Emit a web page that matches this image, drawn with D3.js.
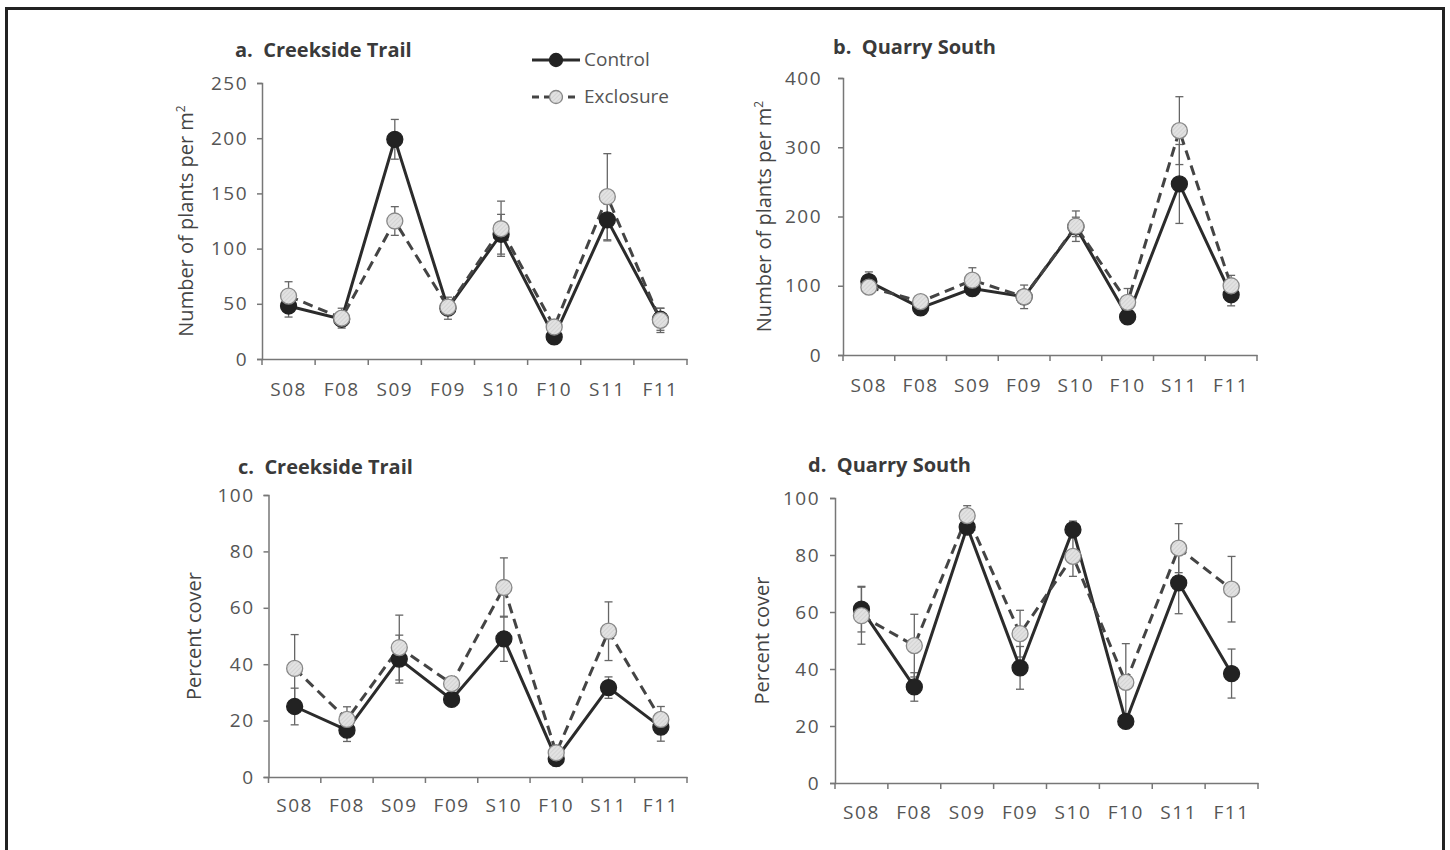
<!DOCTYPE html>
<html>
<head>
<meta charset="utf-8">
<script src="https://cdn.jsdelivr.net/npm/d3@7"></script>
<style>
  body { margin: 0; background: #fff; }
  svg { display: block; }
</style>
</head>
<body>
<div id="chart"></div>
<script>
const seasons = ['S08', 'F08', 'S09', 'F09', 'S10', 'F10', 'S11', 'F11'];
const seriesNames = ['Control', 'Exclosure'];

// a. Creekside Trail, plants per m2
const aControl = [48, 36, 199, 46, 113, 20, 126, 36];
const aControlErr = [10, 3, 18, 10, 18, 3, 19, 10];
const aExclosure = [57, 37, 125, 47, 118, 29, 147, 35];
const aExclosureErr = [13, 9, 13, 5, 25, 4, 39, 11];

// b. Quarry South, plants per m2
const bControl = [106, 68, 96, 84, 185, 55, 247, 87];
const bControlErr = [14, 5, 8, 17, 14, 5, 57, 16];
const bExclosure = [98, 77, 108, 84, 186, 76, 324, 100];
const bExclosureErr = [8, 5, 18, 10, 22, 20, 49, 15];

// c. Creekside Trail, percent cover
const cControl = [25, 16.6, 41.8, 27.5, 49, 6.5, 31.7, 17.7];
const cControlErr = [6.5, 4, 8.5, 2, 8, 2.5, 3.8, 5];
const cExclosure = [38.5, 20.4, 45.9, 33.1, 67.2, 8.6, 51.7, 20.4];
const cExclosureErr = [12, 4.5, 11.5, 2, 10.5, 2, 10.4, 4.6];

// d. Quarry South, percent cover
const dControl = [61, 33.7, 89.8, 40.4, 88.9, 21.6, 70.2, 38.4];
const dControlErr = [8, 5, 2, 7.5, 3, 2, 10.8, 8.6];
const dExclosure = [58.7, 48.2, 93.8, 52.4, 79.5, 35.3, 82.4, 68];
const dExclosureErr = [10, 11, 3.5, 8.2, 7, 13.6, 8.6, 11.5];

const densityTicks = { a: [0, 50, 100, 150, 200, 250], b: [0, 100, 200, 300, 400] };
const coverTicks = [0, 20, 40, 60, 80, 100];

const W = 1450, H = 850;
const FONT = "'Open Sans', 'Liberation Sans', sans-serif";
const TEXT_COLOR = '#555';
const AXIS_COLOR = '#777';

const svg = d3.select('#chart').append('svg')
  .attr('width', W)
  .attr('height', H);

svg.append('rect')
  .attr('width', W).attr('height', H)
  .attr('fill', '#fff');

// frame round the figure
svg.append('rect')
  .attr('x', 6.5).attr('y', 8.5)
  .attr('width', 1437).attr('height', 860)
  .attr('fill', 'none')
  .attr('stroke', '#222')
  .attr('stroke-width', 3);

const defs = svg.append('defs');
const hatch = defs.append('pattern')
  .attr('id', 'hatch')
  .attr('patternUnits', 'userSpaceOnUse')
  .attr('width', 3).attr('height', 3)
  .attr('patternTransform', 'rotate(45)');
hatch.append('rect').attr('width', 3).attr('height', 3).attr('fill', '#e2e2e2');
hatch.append('line')
  .attr('x1', 0).attr('y1', 0).attr('x2', 0).attr('y2', 3)
  .attr('stroke', '#c4c4c4').attr('stroke-width', 1);

const styles = {
  Control: { stroke: '#2b2b2b', dash: null, fill: '#222', markerStroke: '#222' },
  Exclosure: { stroke: '#444', dash: '10,6', fill: 'url(#hatch)', markerStroke: '#888' },
};

function drawPanel(p) {
  const x = d3.scaleBand()
    .domain(seasons)
    .range([p.x0, p.x1])
    .paddingInner(0)
    .paddingOuter(0);
  const y = d3.scaleLinear()
    .domain([0, p.max])
    .range([p.y0, p.y1]);

  const g = svg.append('g');

  // title
  g.append('text')
    .attr('x', p.titleX)
    .attr('y', p.titleY)
    .style('font-family', FONT)
    .style('font-size', '20px')
    .style('font-weight', 'bold')
    .attr('fill', '#3a3a3a')
    .attr('xml:space', 'preserve')
    .text(p.title);

  // y axis
  const yAxis = g.append('g')
    .attr('transform', `translate(${p.x0},0)`)
    .call(d3.axisLeft(y).tickValues(p.ticks).tickSizeOuter(0).tickSize(5).tickPadding(p.yPad));
  yAxis.select('.domain').attr('stroke', AXIS_COLOR).attr('stroke-width', 1.5);
  yAxis.selectAll('.tick line').attr('stroke', AXIS_COLOR).attr('stroke-width', 1.5);
  yAxis.selectAll('.tick text')
    .style('font-family', FONT)
    .style('font-size', '19px')
    .style('letter-spacing', '1.5px')
    .attr('fill', TEXT_COLOR);

  // x axis: labels at centres, ticks at the boundaries
  const xAxis = g.append('g')
    .attr('transform', `translate(0,${p.y0})`)
    .call(d3.axisBottom(x).tickSize(0).tickPadding(p.xPad).tickSizeOuter(0));
  xAxis.select('.domain').attr('stroke', AXIS_COLOR).attr('stroke-width', 1.5);
  xAxis.selectAll('.tick text')
    .style('font-family', FONT)
    .style('font-size', '19px')
    .style('letter-spacing', '1.5px')
    .attr('fill', TEXT_COLOR);
  const bounds = seasons.map(s => x(s)).concat([p.x1]);
  xAxis.selectAll('.bound')
    .data(bounds)
    .enter()
    .append('line')
    .attr('class', 'bound')
    .attr('x1', d => d).attr('x2', d => d)
    .attr('y1', 0).attr('y2', 6)
    .attr('stroke', AXIS_COLOR)
    .attr('stroke-width', 1.5);

  // y label
  g.append('text')
    .attr('transform', `translate(${p.labelX},${(p.y0 + p.y1) / 2}) rotate(-90)`)
    .attr('text-anchor', 'middle')
    .style('font-family', FONT)
    .style('font-size', '20px')
    .attr('fill', '#444')
    .text(p.yLabel)
    .call(t => {
      if (p.sup) {
        t.append('tspan').attr('dy', -8).style('font-size', '12px').text('2');
      }
    });

  const cx = s => x(s) + x.bandwidth() / 2;

  // error bars first
  p.series.forEach((ser) => {
    const eb = g.append('g');
    seasons.forEach((s, i) => {
      const lo = y(ser.values[i] - ser.err[i]);
      const hi = y(ser.values[i] + ser.err[i]);
      eb.append('line')
        .attr('x1', cx(s)).attr('x2', cx(s))
        .attr('y1', lo).attr('y2', hi)
        .attr('stroke', '#666').attr('stroke-width', 1.3);
      [lo, hi].forEach((yy) => {
        eb.append('line')
          .attr('x1', cx(s) - 4).attr('x2', cx(s) + 4)
          .attr('y1', yy).attr('y2', yy)
          .attr('stroke', '#666').attr('stroke-width', 1.3);
      });
    });
  });

  const line = d3.line()
    .x((d, i) => cx(seasons[i]))
    .y(d => y(d));

  p.series.forEach((ser) => {
    const st = styles[ser.name];
    g.append('path')
      .datum(ser.values)
      .attr('d', line)
      .attr('fill', 'none')
      .attr('stroke', st.stroke)
      .attr('stroke-width', 3)
      .attr('stroke-dasharray', st.dash);
  });

  p.series.forEach((ser) => {
    const st = styles[ser.name];
    g.selectAll(null)
      .data(ser.values)
      .enter()
      .append('circle')
      .attr('cx', (d, i) => cx(seasons[i]))
      .attr('cy', d => y(d))
      .attr('r', 8)
      .attr('fill', st.fill)
      .attr('stroke', st.markerStroke)
      .attr('stroke-width', 1.3);
  });
}

drawPanel({
  title: 'a.  Creekside Trail', titleX: 235, titleY: 57,
  x0: 262, x1: 687, y0: 359, y1: 83, max: 250, ticks: densityTicks.a,
  yPad: 9, xPad: 24,
  labelX: 193, yLabel: 'Number of plants per m', sup: true,
  series: [
    { name: 'Control', values: aControl, err: aControlErr },
    { name: 'Exclosure', values: aExclosure, err: aExclosureErr },
  ],
});

drawPanel({
  title: 'b.  Quarry South', titleX: 833, titleY: 54,
  x0: 843, x1: 1257, y0: 355, y1: 78, max: 400, ticks: densityTicks.b,
  yPad: 16, xPad: 24,
  labelX: 771, yLabel: 'Number of plants per m', sup: true,
  series: [
    { name: 'Control', values: bControl, err: bControlErr },
    { name: 'Exclosure', values: bExclosure, err: bExclosureErr },
  ],
});

drawPanel({
  title: 'c.  Creekside Trail', titleX: 238, titleY: 474,
  x0: 268.5, x1: 687, y0: 777, y1: 495, max: 100, ticks: coverTicks,
  yPad: 9, xPad: 22,
  labelX: 201, yLabel: 'Percent cover', sup: false,
  series: [
    { name: 'Control', values: cControl, err: cControlErr },
    { name: 'Exclosure', values: cExclosure, err: cExclosureErr },
  ],
});

drawPanel({
  title: 'd.  Quarry South', titleX: 808, titleY: 472,
  x0: 835, x1: 1258, y0: 783, y1: 498, max: 100, ticks: coverTicks,
  yPad: 10, xPad: 23,
  labelX: 769, yLabel: 'Percent cover', sup: false,
  series: [
    { name: 'Control', values: dControl, err: dControlErr },
    { name: 'Exclosure', values: dExclosure, err: dExclosureErr },
  ],
});

// legend
const legend = svg.append('g');
seriesNames.forEach((name, i) => {
  const st = styles[name];
  const ly = 60 + i * 37;
  legend.append('line')
    .attr('x1', 532).attr('x2', 580)
    .attr('y1', ly).attr('y2', ly)
    .attr('stroke', st.stroke)
    .attr('stroke-width', 3)
    .attr('stroke-dasharray', st.dash ? '7,5' : null);
  legend.append('circle')
    .attr('cx', 556).attr('cy', ly).attr('r', 6.5)
    .attr('fill', st.fill)
    .attr('stroke', st.markerStroke)
    .attr('stroke-width', 1.3);
  legend.append('text')
    .attr('x', 584).attr('y', ly + 6)
    .style('font-family', FONT)
    .style('font-size', '19px')
    .attr('fill', TEXT_COLOR)
    .text(name);
});
</script>
</body>
</html>
